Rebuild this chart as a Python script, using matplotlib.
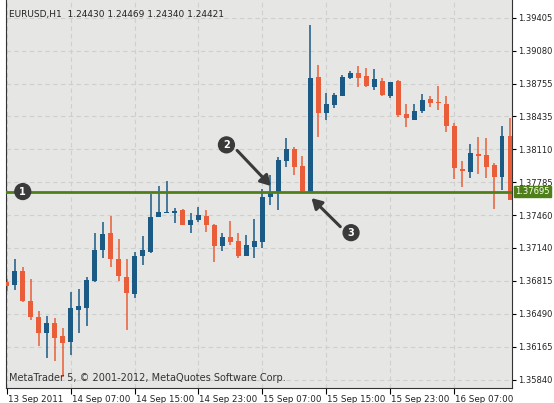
import matplotlib
matplotlib.use("Agg")
import matplotlib.pyplot as plt
import matplotlib.transforms as mtrans
import numpy as np

opens  = [1.36804,1.36775,1.36913,1.36617,1.36460,1.36302,1.36400,1.36272,1.36213,1.36529,1.36548,1.36814,1.37120,1.37287,1.37031,1.36854,
          1.36686,1.37060,1.37100,1.37445,1.37484,1.37484,1.37514,1.37366,1.37415,1.37454,1.37366,1.37159,1.37248,1.37208,1.37060,1.37149,
          1.37198,1.37642,1.37681,1.37996,1.38114,1.37947,1.37691,1.38824,1.38469,1.38548,1.38636,1.38814,1.38863,1.38833,1.38725,1.38784,
          1.38636,1.38784,1.38459,1.38400,1.38489,1.38607,1.38577,1.38558,1.38341,1.37917,1.37888,1.38065,1.38055,1.37957,1.37839,1.38242]
highs  = [1.36834,1.37031,1.36952,1.36834,1.36519,1.36469,1.36450,1.36351,1.36706,1.36735,1.36854,1.37287,1.37395,1.37454,1.37228,1.37031,
          1.37100,1.37257,1.37671,1.37750,1.37799,1.37533,1.37523,1.37484,1.37543,1.37514,1.37376,1.37287,1.37405,1.37287,1.37267,1.37425,
          1.37720,1.37858,1.38036,1.38223,1.38134,1.38045,1.39336,1.38942,1.38666,1.38666,1.38843,1.38883,1.38932,1.38912,1.38902,1.38814,
          1.38774,1.38794,1.38558,1.38558,1.38656,1.38636,1.38735,1.38636,1.38370,1.37996,1.38164,1.38233,1.38223,1.37976,1.38341,1.38420]
lows   = [1.36716,1.36726,1.36607,1.36430,1.36174,1.36056,1.36026,1.35869,1.36085,1.36302,1.36371,1.36804,1.37041,1.36952,1.36814,1.36332,
          1.36647,1.36972,1.37090,1.37445,1.37484,1.37385,1.37366,1.37287,1.37395,1.37297,1.37001,1.37110,1.37169,1.37041,1.37060,1.37041,
          1.37139,1.37563,1.37514,1.37937,1.37858,1.37691,1.37681,1.38233,1.38400,1.38518,1.38636,1.38804,1.38725,1.38725,1.38696,1.38636,
          1.38617,1.38430,1.38331,1.38400,1.38469,1.38528,1.38499,1.38282,1.37819,1.37740,1.37829,1.37868,1.37829,1.37523,1.37711,1.37612]
closes = [1.36765,1.36913,1.36617,1.36460,1.36302,1.36400,1.36253,1.36203,1.36548,1.36568,1.36824,1.37120,1.37277,1.37031,1.36863,1.36696,
          1.37060,1.37120,1.37445,1.37494,1.37494,1.37504,1.37366,1.37415,1.37464,1.37366,1.37159,1.37248,1.37198,1.37060,1.37169,1.37208,
          1.37642,1.37681,1.38006,1.38114,1.37937,1.37701,1.38814,1.38469,1.38558,1.38646,1.38824,1.38863,1.38814,1.38735,1.38804,1.38646,
          1.38774,1.38449,1.38420,1.38489,1.38597,1.38567,1.38567,1.38341,1.37927,1.37898,1.38075,1.38045,1.37937,1.37839,1.38242,1.37612]
price_ticks = [1.39405,1.39080,1.38755,1.38435,1.38110,1.37785,1.37460,1.37140,1.36815,1.36490,1.36165,1.35840]
time_ticks = [0,8,16,24,32,40,48,56]
time_labels = ["13 Sep 2011","14 Sep 07:00","14 Sep 15:00","14 Sep 23:00","15 Sep 07:00","15 Sep 15:00","15 Sep 23:00","16 Sep 07:00"]
level = 1.37695

BLUE = "#1b5a85"; RED = "#e95d38"; GREEN = "#4f7f19"; DARK = "#3a3a3a"

fig = plt.figure(figsize=(5.54, 4.03), dpi=100, facecolor="white")
ax = fig.add_axes([6/554, 15/403, 506/554, 388/403])
ax.set_facecolor("#e6e7e4")
ax.set_xlim(-0.1, 63.25)
ax.set_ylim(1.35760, 1.39582)
for t in time_ticks:
    ax.axvline(t, color="#cfcfcf", lw=0.8, ls=(0, (4, 3)), zorder=0)
for p in price_ticks:
    ax.axhline(p, color="#cfcfcf", lw=0.8, ls=(0, (4, 3)), zorder=0)

x = np.arange(len(opens))
o = np.array(opens); c = np.array(closes)
colors = [BLUE if cc >= oo else RED for oo, cc in zip(o, c)]
ax.vlines(x, lows, highs, colors=colors, lw=1.1, zorder=2)
bottom = np.minimum(o, c)
height = np.maximum(np.abs(c - o), 0.00006)
ax.bar(x, height, bottom=bottom, width=0.62, color=colors, zorder=3, linewidth=0)

ax.axhline(level, color=GREEN, lw=2, zorder=4)

ax.yaxis.tick_right()
ax.set_yticks(price_ticks)
ax.set_yticklabels([f"{p:.5f}" for p in price_ticks], fontsize=6, color="#222")
ax.set_xticks(time_ticks)
ax.set_xticklabels(time_labels, fontsize=6.3, color="#222", ha="left")
ax.tick_params(axis="x", length=4, pad=1, direction="out")
ax.tick_params(axis="y", length=3, pad=1.5, direction="out")
off = mtrans.ScaledTranslation(1/100, 0, fig.dpi_scale_trans)
for lab in ax.get_xticklabels():
    lab.set_transform(lab.get_transform() + off)
ax.spines["top"].set_visible(False)
for s in ["left", "right", "bottom"]:
    ax.spines[s].set_color("#333")

ax.annotate(f"{level:.5f}", xy=(1.0, level), xycoords=("axes fraction", "data"),
            xytext=(2.5, 0), textcoords="offset points", fontsize=6, color="white",
            va="center", ha="left", bbox=dict(boxstyle="square,pad=0.15", fc=GREEN, ec=GREEN))

ax.text(0.005, 0.975, "EURUSD,H1  1.24430 1.24469 1.24340 1.24421", transform=ax.transAxes,
        fontsize=6.5, color="#222", va="top", ha="left")
ax.text(0.005, 0.012, "MetaTrader 5, © 2001-2012, MetaQuotes Software Corp.", transform=ax.transAxes,
        fontsize=7, color="#333", va="bottom", ha="left")

def badge(xd, yd, s):
    ax.text(xd, yd, s, fontsize=7, color="white", fontweight="bold", ha="center", va="center", zorder=6,
            bbox=dict(boxstyle="circle,pad=0.3", fc=DARK, ec=DARK))

badge(2.0, level, "1")
badge(27.5, 1.38155, "2")
badge(43.1, 1.37290, "3")
ax.annotate("", xy=(33.3, 1.37730), xytext=(28.6, 1.38120),
            arrowprops=dict(arrowstyle="-|>,head_length=0.6,head_width=0.35", color=DARK, lw=2.2), zorder=5)
ax.annotate("", xy=(37.9, 1.37650), xytext=(42.0, 1.37330),
            arrowprops=dict(arrowstyle="-|>,head_length=0.6,head_width=0.35", color=DARK, lw=2.2), zorder=5)

fig.savefig("out.png", dpi=100, facecolor="white")
